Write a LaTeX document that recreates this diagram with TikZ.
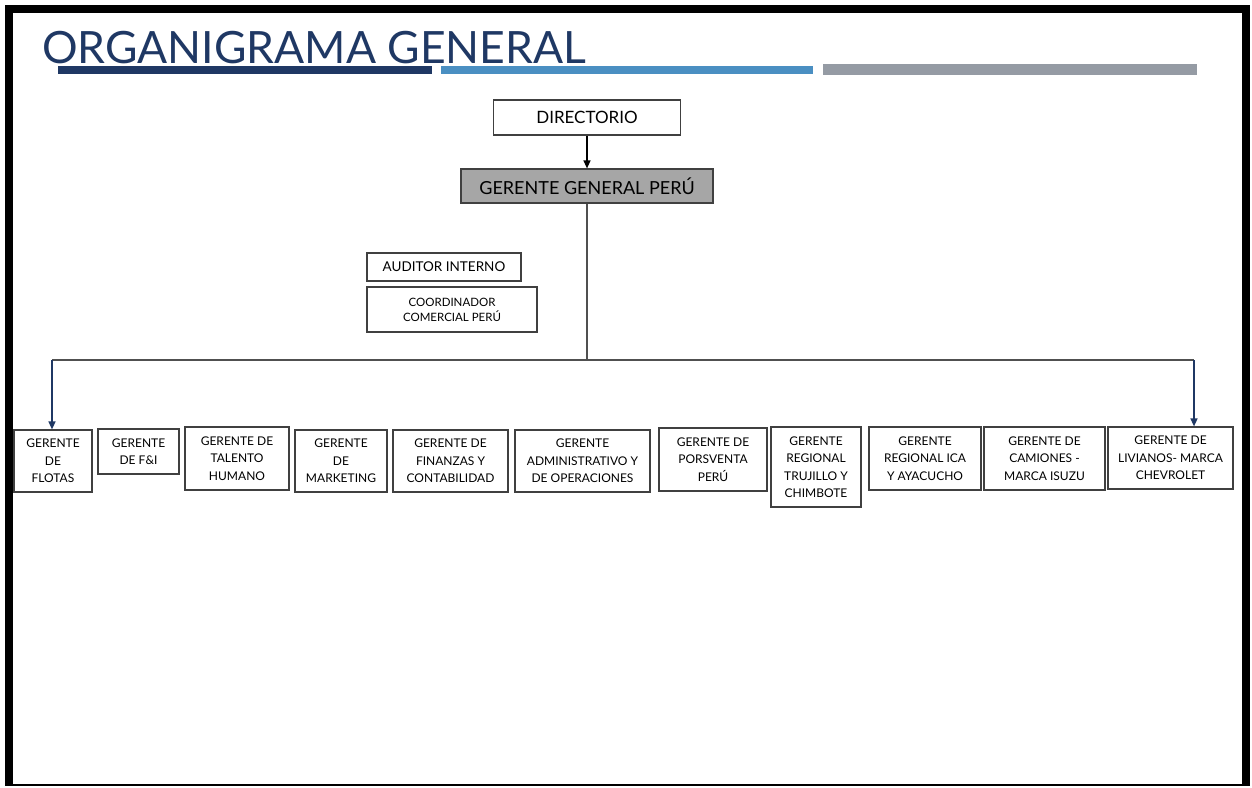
\documentclass[tikz,border=0pt]{standalone}
\usepackage{fontspec}
\setmainfont{Lato}
\usepackage{xcolor}
\usetikzlibrary{arrows.meta}
\definecolor{navy}{HTML}{1F3864}
\definecolor{barblue}{HTML}{4A8FC2}
\definecolor{bargrey}{HTML}{959BA4}
\definecolor{ggfill}{HTML}{A6A6A6}
\definecolor{boxedge}{HTML}{404040}
\definecolor{linegrey}{HTML}{505050}
\tikzset{
  box/.style={draw=boxedge,line width=1.2pt,align=center,inner sep=0pt,fill=white},
  topbox/.style={box,font=\fontsize{17}{19}\selectfont},
  sidebox/.style={box,font=\fontsize{11.5}{15}\selectfont},
  unit/.style={box,font=\fontsize{12}{17.5}\selectfont},
  link/.style={draw=linegrey,line width=1.4pt},
  arrow/.style={link,draw=black,-{Triangle[length=8pt,width=7pt]}},
  droparrow/.style={link,draw=navy,-{Triangle[length=8pt,width=7pt]}}
}

\begin{document}
\begin{tikzpicture}[x=1pt,y=-1pt]
  \useasboundingbox (0,0) rectangle (1252,787);
  % Slide frame and heading bars.
  \fill[black] (5,5) rectangle (1250,786);
  \fill[white] (13,13) rectangle (1242,784);
  \fill[navy] (58,66) rectangle (432,74);
  \fill[barblue] (441,66) rectangle (813,74);
  \fill[bargrey] (823,64) rectangle (1197,75);
  \node[anchor=base west,inner sep=0pt,text=navy,font=\fontsize{44.5}{50}\selectfont]
    (title) at (42,63) {ORGANIGRAMA GENERAL};

  % Top of the chart.
  \node[topbox,minimum width=187pt,minimum height=35pt] (dir) at (587,117.5) {DIRECTORIO};
  \node[topbox,fill=ggfill,minimum width=252pt,minimum height=34pt,
    font=\fontsize{18}{20}\selectfont] (gg) at (587,186) {GERENTE GENERAL PERÚ};
  \node[sidebox,minimum width=154pt,minimum height=28pt,
    font=\fontsize{13.5}{15}\selectfont] (aud) at (444,267) {AUDITOR INTERNO};
  \node[sidebox,minimum width=170pt,minimum height=45pt] (coord) at (452,309.5)
    {COORDINADOR\\COMERCIAL PERÚ};

  % Managers row.
  \node[unit,minimum width=78pt,minimum height=62pt] (flotas) at (53,461) {GERENTE\\DE\\FLOTAS};
  \node[unit,minimum width=81pt,minimum height=45pt] (fyi) at (138.5,451.5) {GERENTE\\DE F\&I};
  \node[unit,minimum width=104pt,minimum height=63pt] (talento) at (237,458.5)
    {GERENTE DE\\TALENTO\\HUMANO};
  \node[unit,minimum width=92pt,minimum height=62pt] (mkt) at (341,461) {GERENTE\\DE\\MARKETING};
  \node[unit,minimum width=115pt,minimum height=62pt] (fin) at (450.5,461)
    {GERENTE DE\\FINANZAS Y\\CONTABILIDAD};
  \node[unit,minimum width=135pt,minimum height=62pt] (adm) at (582.5,461)
    {GERENTE\\ADMINISTRATIVO Y\\DE OPERACIONES};
  \node[unit,minimum width=108pt,minimum height=63pt] (posv) at (713,459.5)
    {GERENTE DE\\PORSVENTA\\PERÚ};
  \node[unit,minimum width=90pt,minimum height=80pt] (truj) at (816,467)
    {GERENTE\\REGIONAL\\TRUJILLO Y\\CHIMBOTE};
  \node[unit,minimum width=112pt,minimum height=63pt] (ica) at (925,458.5)
    {GERENTE\\REGIONAL ICA\\Y AYACUCHO};
  \node[unit,minimum width=121pt,minimum height=63pt] (cam) at (1044.5,458.5)
    {GERENTE DE\\CAMIONES -\\MARCA ISUZU};
  \node[unit,minimum width=125pt,minimum height=62pt] (liv) at (1170.5,458)
    {GERENTE DE\\LIVIANOS- MARCA\\CHEVROLET};

  % Connectors.
  \coordinate (bus) at (gg.south |- 0,360);
  \coordinate (busL) at (52,360);
  \coordinate (busR) at (1194,360);
  \draw[arrow] (dir.south) -- (gg.north);
  \draw[link] (gg.south) -- (bus);
  \draw[link] (busL) -- (busR);
  \draw[droparrow] (busL) -- (busL |- flotas.north);
  \draw[droparrow] (busR) -- (busR |- liv.north);
\end{tikzpicture}
\end{document}
